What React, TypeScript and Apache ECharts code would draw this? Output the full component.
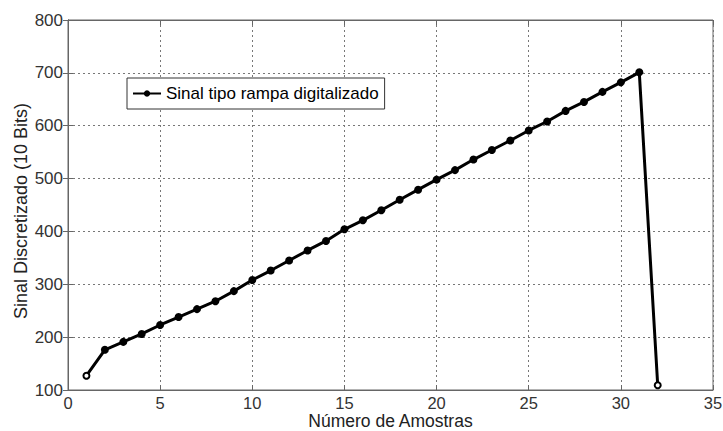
import React, { useEffect, useRef } from "react";
import * as echarts from "echarts";

const samples = [1,2,3,4,5,6,7,8,9,10,11,12,13,14,15,16,17,18,19,20,21,22,23,24,25,26,27,28,29,30,31,32];
const values = [127,176,191,206,223,238,253,268,287,308,326,345,364,382,404,421,440,460,479,498,516,536,554,572,591,608,628,645,664,682,701,109];
const seriesName = "Sinal tipo rampa digitalizado";
const xTitle = "Número de Amostras";
const yTitle = "Sinal Discretizado (10 Bits)";

export default function App() {
  const ref = useRef<HTMLDivElement>(null);
  useEffect(() => {
    if (!ref.current) return;
    const chart = echarts.init(ref.current, null, { renderer: "svg" });
    const font = "Liberation Sans, Arial, sans-serif";
    const data = samples.map((x, i) => {
      const hollow = i === 0 || i === samples.length - 1;
      return hollow
        ? { value: [x, values[i]], symbolSize: 6, itemStyle: { color: "#fff", borderColor: "#000", borderWidth: 2 } }
        : { value: [x, values[i]] };
    });
    const splitLine = { show: true, lineStyle: { color: "#777", type: [2, 3] as any, width: 1 } };
    chart.setOption({
      animation: false,
      backgroundColor: "#fff",
      textStyle: { fontFamily: font },
      grid: {
        left: 68, right: 10, top: 20, bottom: 41,
        containLabel: false, outerBoundsMode: "none",
        show: true, borderColor: "#666", borderWidth: 1,
      },
      legend: {
        left: 127, top: 78,
        orient: "horizontal",
        data: [seriesName],
        itemWidth: 28, itemHeight: 8,
        itemGap: 4,
        padding: [7, 6, 7, 5],
        borderColor: "#333", borderWidth: 1, borderRadius: 0,
        backgroundColor: "#fff",
        textStyle: { fontSize: 17, color: "#000", fontFamily: font },
      },
      xAxis: [
        {
          type: "value", min: 0, max: 35, interval: 5,
          name: xTitle, nameLocation: "middle", nameGap: 22, nameMoveOverlap: false,
          nameTextStyle: { fontSize: 17.5, lineHeight: 18, color: "#222", fontFamily: font },
          axisLine: { show: true, onZero: false, lineStyle: { color: "#666" } },
          axisTick: { show: true, inside: true, length: 5, lineStyle: { color: "#666" } },
          axisLabel: { fontSize: 16.5, lineHeight: 16, color: "#333", margin: 5, fontFamily: font },
          splitLine,
        },
        {
          type: "value", position: "top", min: 0, max: 35, interval: 5,
          axisLine: { show: true, lineStyle: { color: "#666" } },
          axisTick: { show: true, inside: true, length: 5, lineStyle: { color: "#666" } },
          axisLabel: { show: false }, splitLine: { show: false },
        },
      ],
      yAxis: [
        {
          type: "value", min: 100, max: 800, interval: 100,
          name: yTitle, nameLocation: "middle", nameGap: 38, nameMoveOverlap: false,
          nameTextStyle: { fontSize: 18, color: "#222", fontFamily: font, padding: [0, 12, 0, 0] },
          axisLine: { show: true, onZero: false, lineStyle: { color: "#666" } },
          axisTick: { show: true, inside: true, length: 5, lineStyle: { color: "#666" } },
          axisLabel: { fontSize: 17, color: "#333", margin: 5, fontFamily: font },
          splitLine,
        },
        {
          type: "value", position: "right", min: 100, max: 800, interval: 100,
          axisLine: { show: true, lineStyle: { color: "#666" } },
          axisTick: { show: true, inside: true, length: 5, lineStyle: { color: "#666" } },
          axisLabel: { show: false }, splitLine: { show: false },
        },
      ],
      series: [
        {
          name: seriesName,
          type: "line",
          xAxisIndex: 0, yAxisIndex: 0,
          data,
          symbol: "circle",
          symbolSize: 8,
          lineStyle: { color: "#000", width: 3 },
          itemStyle: { color: "#000" },
          emphasis: { disabled: true },
        },
      ],
    });
    return () => chart.dispose();
  }, []);
  return <div ref={ref} style={{ width: 723, height: 431, position: "absolute", left: 0, top: 0 }} />;
}
